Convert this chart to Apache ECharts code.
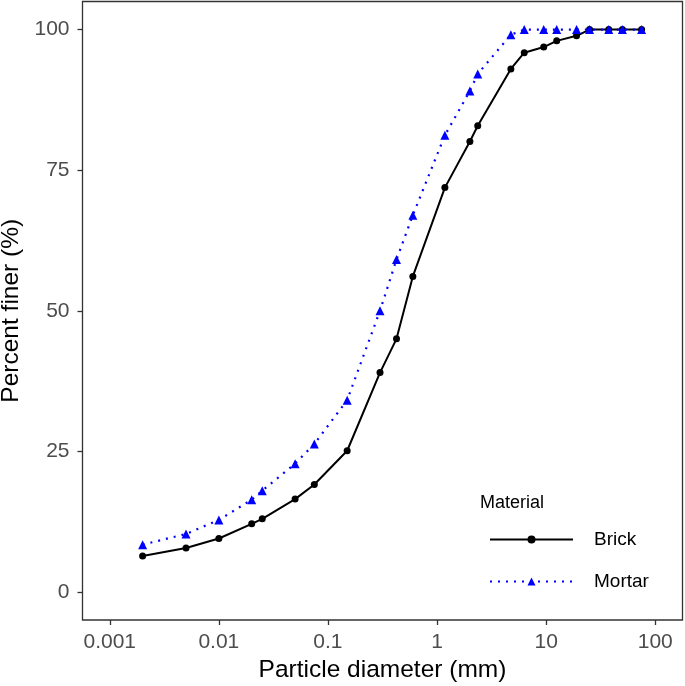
<!DOCTYPE html>
<html>
<head>
<meta charset="utf-8">
<script src="https://cdn.jsdelivr.net/npm/echarts@6/dist/echarts.min.js"></script>
<style>html,body{margin:0;padding:0;background:#fff;}#c{width:685px;height:686px;}</style>
</head>
<body>
<div id="c"></div>
<script>
const sizes = [0.002, 0.005, 0.01, 0.02, 0.025, 0.05, 0.075, 0.15, 0.3, 0.425, 0.6, 1.18, 2, 2.36, 4.75, 6.3, 9.5, 12.5, 19, 25, 37.5, 50, 75];
const brick = [6.4, 7.8, 9.5, 12.1, 13.0, 16.5, 19.1, 25.1, 39.0, 45.0, 56.1, 71.9, 80.1, 82.9, 93.0, 95.9, 96.9, 98.0, 98.9, 100, 100, 100, 100];
const mortar = [8.4, 10.3, 12.8, 16.4, 18.0, 22.8, 26.3, 34.1, 50.0, 59.1, 67.0, 81.2, 89.1, 92.1, 99.1, 100, 100, 100, 100, 100, 100, 100, 100];
const yTicks = [0, 25, 50, 75, 100];
const xTickLabels = ['0.001', '0.01', '0.1', '1', '10', '100'];

const font = 'Liberation Sans, Arial, sans-serif';
const chart = echarts.init(document.getElementById('c'), null, {renderer: 'canvas'});
chart.setOption({
  animation: false,
  backgroundColor: '#ffffff',
  grid: {left: 82.5, right: 2.5, top: 1.5, bottom: 66, show: true, borderColor: '#333333', borderWidth: 1.3, backgroundColor: 'transparent', containLabel: false, outerBoundsMode: 'none'},
  title: {text: 'Material', left: 480, top: 494, padding: 0, textStyle: {fontFamily: font, fontSize: 18, fontWeight: 'normal', color: '#000'}},
  legend: {
    orient: 'vertical', left: 489, top: 530, padding: 0, itemWidth: 83, itemHeight: 10, itemGap: 23,
    textStyle: {fontFamily: font, fontSize: 19, color: '#000', padding: [0, 0, 0, 16]},
    data: ['Brick', 'Mortar']
  },
  xAxis: {
    type: 'log', logBase: 10,
    min: Math.pow(10, -3.25), max: Math.pow(10, 2.25),
    name: 'Particle diameter (mm)', nameLocation: 'middle', nameGap: 36,
    nameTextStyle: {fontFamily: font, fontSize: 24.5, color: '#000'},
    axisLine: {show: false, onZero: false},
    axisTick: {show: true, length: 5, lineStyle: {color: '#333333', width: 1.3}},
    axisLabel: {fontFamily: font, fontSize: 21, color: '#4D4D4D', margin: 12, showMinLabel: false, showMaxLabel: false,
      formatter: function (v) { const e = Math.round(Math.log10(v)); return xTickLabels[e + 3] !== undefined ? xTickLabels[e + 3] : ''; }},
    splitLine: {show: false}
  },
  yAxis: {
    type: 'value', min: -5, max: 105,
    name: 'Percent finer (%)', nameLocation: 'middle', nameGap: 55,
    nameTextStyle: {fontFamily: font, fontSize: 24.5, color: '#000'},
    axisLine: {show: false, onZero: false},
    axisTick: {show: true, length: 5, lineStyle: {color: '#333333', width: 1.3}, customValues: yTicks},
    axisLabel: {fontFamily: font, fontSize: 21, color: '#4D4D4D', margin: 13, customValues: yTicks},
    splitLine: {show: false}
  },
  series: [
    {
      name: 'Brick', type: 'line',
      data: sizes.map((s, i) => [s, brick[i]]),
      symbol: 'circle', symbolSize: 7,
      lineStyle: {color: '#000000', width: 2},
      itemStyle: {color: '#000000'},
      z: 2
    },
    {
      name: 'Mortar', type: 'line',
      data: sizes.map((s, i) => [s, mortar[i]]),
      symbol: 'triangle', symbolSize: 9,
      lineStyle: {color: '#0000FF', width: 2.2, type: [2, 6]},
      itemStyle: {color: '#0000FF'},
      z: 3
    }
  ]
});
</script>
</body>
</html>
